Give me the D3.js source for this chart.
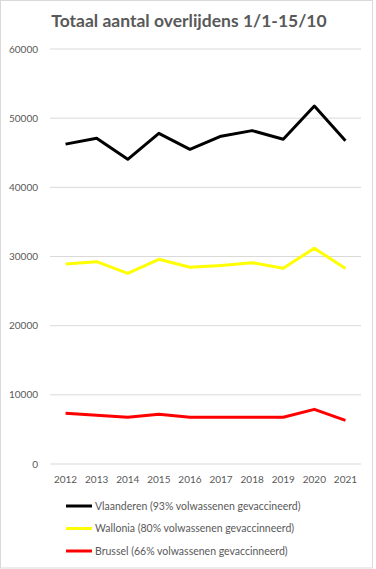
<!DOCTYPE html>
<html>
<head>
<meta charset="utf-8">
<script src="https://cdn.jsdelivr.net/npm/d3@7"></script>
<style>
  body { margin: 0; background: #fff; }
  svg { display: block; font-family: Lato, "Open Sans", sans-serif; }
</style>
</head>
<body>
<svg id="chart"></svg>
<script>
const years = ["2012", "2013", "2014", "2015", "2016", "2017", "2018", "2019", "2020", "2021"];
const vlaanderen = [46250, 47100, 44050, 47800, 45500, 47400, 48200, 46950, 51750, 46750];
const wallonia = [28900, 29250, 27550, 29600, 28450, 28700, 29100, 28300, 31200, 28250];
const brussel = [7350, 7050, 6750, 7200, 6750, 6750, 6750, 6750, 7900, 6300];
const yTicks = [0, 10000, 20000, 30000, 40000, 50000, 60000];
const seriesNames = [
  "Vlaanderen (93% volwassenen gevaccineerd)",
  "Wallonia (80% volwassenen gevaccinneerd)",
  "Brussel (66% volwassenen gevaccinneerd)"
];
const seriesColors = ["#000000", "#ffff00", "#ff0000"];

const W = 376, H = 569;
const margin = { top: 49, right: 15, bottom: 105, left: 50 };
const width = 361 - margin.left;
const height = 464 - margin.top;

const svg = d3.select("#chart").attr("width", W).attr("height", H);

// cadre
svg.append("rect")
  .attr("x", 0.5).attr("y", 0.5)
  .attr("width", 372).attr("height", 567.5)
  .attr("fill", "#fff").attr("stroke", "#d9d9d9");

svg.append("text")
  .attr("x", 189)
  .attr("y", 27)
  .attr("text-anchor", "middle")
  .attr("font-size", "17.5px")
  .attr("font-weight", "bold")
  .attr("fill", "#595959")
  .text("Totaal aantal overlijdens 1/1-15/10");

const g = svg.append("g").attr("transform", `translate(${margin.left},${margin.top})`);

const x = d3.scaleBand().domain(years).range([0, width]);
const y = d3.scaleLinear().domain([0, 60000]).range([height, 0]);

// rasterlijnen
g.selectAll("line.grid")
  .data(yTicks)
  .join("line")
  .attr("x1", 0).attr("x2", width)
  .attr("y1", (d) => y(d)).attr("y2", (d) => y(d))
  .attr("stroke", "#d9d9d9").attr("stroke-width", 1);

// y-as labels
g.selectAll("text.ylab")
  .data(yTicks)
  .join("text")
  .attr("x", -12)
  .attr("y", (d) => y(d))
  .attr("dy", "0.35em")
  .attr("text-anchor", "end")
  .attr("font-size", "10px")
  .attr("fill", "#595959")
  .text((d) => d);

// x-as labels
g.selectAll("text.xlab")
  .data(years)
  .join("text")
  .attr("x", (d) => x(d) + x.bandwidth() / 2)
  .attr("y", height + 19)
  .attr("text-anchor", "middle")
  .attr("font-size", "10px")
  .attr("fill", "#595959")
  .text((d) => d);

const line = d3.line()
  .x((d, i) => x(years[i]) + x.bandwidth() / 2)
  .y((d) => y(d));

[vlaanderen, wallonia, brussel].forEach((vals, i) => {
  g.append("path")
    .datum(vals)
    .attr("fill", "none")
    .attr("stroke", seriesColors[i])
    .attr("stroke-width", 3)
    .attr("stroke-linejoin", "round")
    .attr("d", line);
});

// legende
const legend = svg.append("g");
seriesNames.forEach((name, i) => {
  const ly = 506 + i * 22.5;
  legend.append("line")
    .attr("x1", 66).attr("x2", 92)
    .attr("y1", ly).attr("y2", ly)
    .attr("stroke", seriesColors[i]).attr("stroke-width", 3);
  legend.append("text")
    .attr("x", 95).attr("y", ly)
    .attr("dy", "0.35em")
    .attr("font-size", "10.5px")
    .attr("fill", "#595959")
    .text(name);
});
</script>
</body>
</html>
